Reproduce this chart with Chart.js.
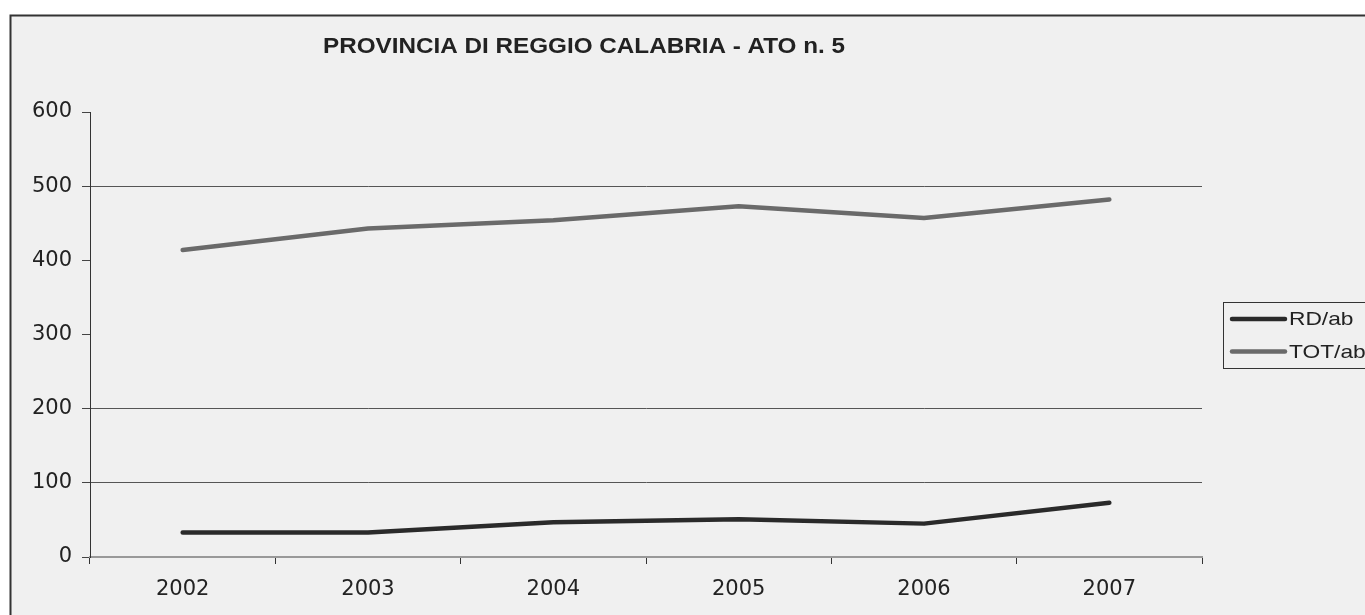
<!DOCTYPE html>
<html><head><meta charset="utf-8">
<script src="https://cdn.jsdelivr.net/npm/chart.js@4.4.0/dist/chart.umd.min.js"></script>
<style>html,body{margin:0;padding:0;background:#fff;overflow:hidden}canvas{display:block}</style>
</head><body>
<canvas id="c" width="1365" height="615"></canvas>
<script>
const titleText = 'PROVINCIA DI REGGIO CALABRIA - ATO n. 5';
const years = ['2002', '2003', '2004', '2005', '2006', '2007'];
const seriesNames = ['RD/ab', 'TOT/ab'];
const rdPerAb = [33, 33, 47, 51, 45, 73];
const totPerAb = [414, 443, 454, 473, 457, 482];
const yMin = 0, yMax = 600, yStep = 100;
const gridValues = [100, 200, 500];

const bgPlugin = {
  id: 'bg',
  beforeDraw(chart) {
    const ctx = chart.ctx;
    ctx.save();
    ctx.fillStyle = '#ffffff';
    ctx.fillRect(0, 0, chart.width, chart.height);
    ctx.fillStyle = '#f0f0f0';
    ctx.fillRect(10.5, 15.5, chart.width, chart.height);
    ctx.strokeStyle = '#333333';
    ctx.lineWidth = 2;
    ctx.strokeRect(10.5, 15.5, chart.width + 10, chart.height + 10);
    ctx.restore();
  }
};

const titlePlugin = {
  id: 'ttl',
  afterDraw(chart) {
    const ctx = chart.ctx;
    ctx.save();
    ctx.font = 'bold 21.5px "Liberation Sans", Arial, sans-serif';
    ctx.fillStyle = '#222222';
    ctx.textAlign = 'center';
    ctx.textBaseline = 'alphabetic';
    ctx.translate(584, 52.5);
    const w = ctx.measureText(titleText).width;
    ctx.scale(522 / w, 1);
    ctx.fillText(titleText, 0, 0);
    ctx.restore();
  }
};

const legendPlugin = {
  id: 'lgd',
  afterDraw(chart) {
    const ctx = chart.ctx;
    ctx.save();
    ctx.strokeStyle = '#333333';
    ctx.lineWidth = 1;
    ctx.strokeRect(1223.5, 302.5, 200, 66);
    const ys = [319, 351.5];
    chart.data.datasets.forEach((ds, i) => {
      ctx.strokeStyle = ds.borderColor;
      ctx.lineWidth = 4.5;
      ctx.lineCap = 'round';
      ctx.beginPath();
      ctx.moveTo(1232, ys[i]);
      ctx.lineTo(1285, ys[i]);
      ctx.stroke();
      ctx.save();
      ctx.font = '18.5px "Liberation Sans", Arial, sans-serif';
      ctx.fillStyle = '#222222';
      ctx.textAlign = 'left';
      ctx.textBaseline = 'middle';
      ctx.translate(1289, ys[i] + 1);
      ctx.scale(1.23, 1);
      ctx.fillText(ds.label, 0, 0);
      ctx.restore();
    });
    ctx.restore();
  }
};

new Chart(document.getElementById('c'), {
  type: 'line',
  data: {
    labels: years,
    datasets: [
      { label: seriesNames[0], data: rdPerAb, borderColor: '#2a2a2a', backgroundColor: '#2a2a2a',
        borderWidth: 4.5, pointRadius: 0, tension: 0, borderCapStyle: 'round', borderJoinStyle: 'round' },
      { label: seriesNames[1], data: totPerAb, borderColor: '#6a6a6a', backgroundColor: '#6a6a6a',
        borderWidth: 4.5, pointRadius: 0, tension: 0, borderCapStyle: 'round', borderJoinStyle: 'round' }
    ]
  },
  options: {
    responsive: false,
    animation: false,
    events: [],
    layout: { padding: { left: 0, top: 112, right: 163, bottom: 13 } },
    plugins: { legend: { display: false }, title: { display: false }, tooltip: { enabled: false } },
    scales: {
      x: {
        offset: true,
        afterFit(s) { s.height = 45; },
        grid: { drawOnChartArea: false, offset: true, tickLength: 7, tickColor: '#333333', tickWidth: 1 },
        border: { color: '#999999', width: 2 },
        ticks: { font: { family: '"DejaVu Sans"', size: 21 }, color: '#222222', padding: 13, maxRotation: 0 }
      },
      y: {
        min: yMin, max: yMax,
        afterFit(s) { s.width = 90; },
        grid: {
          color: (c) => (c.tick && gridValues.includes(c.tick.value)) ? '#555555' : 'rgba(0,0,0,0)',
          tickColor: '#444444', tickLength: 8, lineWidth: 1
        },
        border: { color: '#333333', width: 1 },
        ticks: { stepSize: yStep, font: { family: '"DejaVu Sans"', size: 21 }, color: '#222222', padding: 10 }
      }
    }
  },
  plugins: [bgPlugin, titlePlugin, legendPlugin]
});
</script>
</body></html>
